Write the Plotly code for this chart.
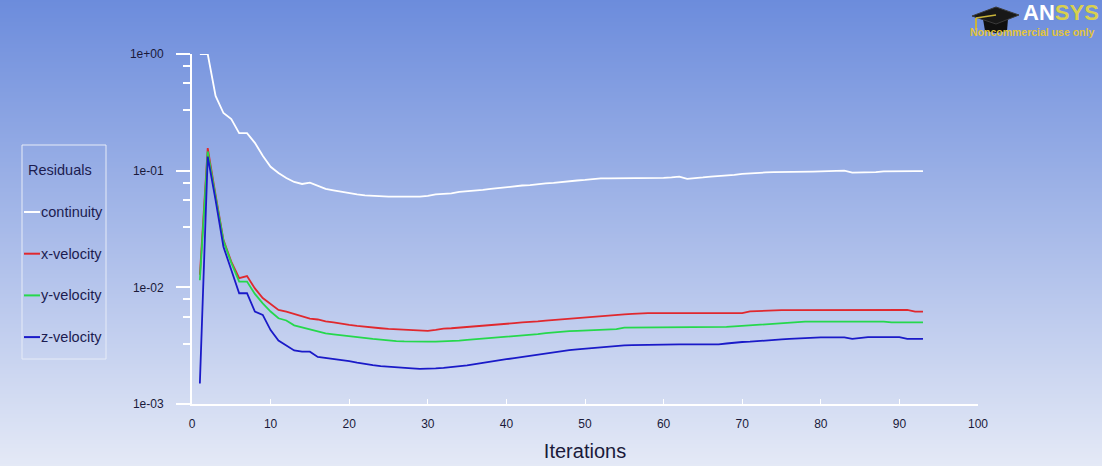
import plotly.graph_objects as go

# ---------------- data ----------------
iterations = list(range(1, 94))

continuity = [
    1.0, 1.0, 0.437, 0.312, 0.277, 0.21, 0.21, 0.173, 0.134, 0.108,
    0.0955, 0.0866, 0.080, 0.0769, 0.0789, 0.0739, 0.0697, 0.0677, 0.0657, 0.064,
    0.0626, 0.0614, 0.0607, 0.0603, 0.060, 0.0599, 0.0598, 0.0598, 0.060, 0.0607,
    0.0626, 0.0633, 0.064, 0.0657, 0.0664, 0.067, 0.0684, 0.0697, 0.071, 0.0724,
    0.0739, 0.0746, 0.0753, 0.0769, 0.0777, 0.0785, 0.080, 0.0816, 0.0824, 0.0833,
    0.085, 0.0858, 0.0858, 0.0858, 0.0858, 0.0858, 0.0858, 0.0858, 0.0858, 0.0866,
    0.0875, 0.089, 0.0852, 0.0858, 0.0875, 0.089, 0.0897, 0.0901, 0.0919, 0.0937,
    0.095, 0.0955, 0.0965, 0.097, 0.0975, 0.0975, 0.0978, 0.098, 0.0983, 0.0985,
    0.0994, 0.1, 0.1, 0.0963, 0.0963, 0.0966, 0.097, 0.0985, 0.099, 0.099,
    0.099, 0.099, 0.099,
]

x_velocity = [
    0.0128, 0.156, 0.062, 0.0255, 0.0166, 0.0120, 0.0125, 0.0098, 0.0081, 0.0072,
    0.0064, 0.0062, 0.0059, 0.0057, 0.0054, 0.0053, 0.0051, 0.0050, 0.00486, 0.00476,
    0.00467, 0.00458, 0.00454, 0.00446, 0.0044, 0.00436, 0.00432, 0.00426, 0.00423, 0.00423,
    0.00432, 0.00443, 0.00446, 0.00451, 0.00455, 0.00462, 0.00471, 0.00476, 0.00481, 0.00486,
    0.00493, 0.0050, 0.00503, 0.00511, 0.00519, 0.00526, 0.00533, 0.0054, 0.00544, 0.00552,
    0.0056, 0.00563, 0.00577, 0.0058, 0.00586, 0.00592, 0.00598, 0.0060, 0.0060, 0.0060,
    0.0060, 0.0060, 0.0060, 0.0060, 0.0060, 0.0060, 0.0060, 0.0060, 0.0060, 0.0060,
    0.00622, 0.00628, 0.00633, 0.00637, 0.00637, 0.00637, 0.00637, 0.00637, 0.00637, 0.00637,
    0.0064, 0.0064, 0.0064, 0.0064, 0.0064, 0.0064, 0.0064, 0.0064, 0.0064, 0.0064,
    0.0064, 0.0062, 0.0062,
]

y_velocity = [
    0.0115, 0.146, 0.060, 0.025, 0.0162, 0.0112, 0.0112, 0.00878, 0.0073, 0.0062,
    0.00543, 0.0052, 0.00472, 0.00454, 0.00438, 0.00421, 0.00403, 0.00395, 0.00387, 0.0038,
    0.00371, 0.00366, 0.00361, 0.00356, 0.0035, 0.00346, 0.00344, 0.00342, 0.00342, 0.00342,
    0.00342, 0.00343, 0.00347, 0.0035, 0.00354, 0.00358, 0.00363, 0.00367, 0.00372, 0.00376,
    0.00382, 0.00387, 0.00393, 0.00397, 0.00405, 0.00411, 0.00417, 0.00421, 0.00423, 0.00425,
    0.00429, 0.00432, 0.00434, 0.00438, 0.00452, 0.00452, 0.00452, 0.00452, 0.00452, 0.00452,
    0.00452, 0.00452, 0.00452, 0.00452, 0.00452, 0.00452, 0.00452, 0.00458, 0.00462, 0.00467,
    0.00472, 0.00478, 0.00486, 0.00493, 0.00496, 0.00503, 0.00508, 0.00509, 0.00509, 0.00509,
    0.00509, 0.00509, 0.00509, 0.00509, 0.00509, 0.00509, 0.00509, 0.00509, 0.0050, 0.0050,
    0.0050, 0.0050, 0.0050,
]

z_velocity = [
    0.0015, 0.132, 0.056, 0.0223, 0.0141, 0.0089, 0.0089, 0.0062, 0.0058, 0.0043,
    0.0035, 0.00315, 0.00288, 0.00281, 0.00281, 0.00253, 0.00248, 0.00243, 0.00239, 0.00233,
    0.00226, 0.00219, 0.00215, 0.00211, 0.00208, 0.00206, 0.00204, 0.00202, 0.0020, 0.0020,
    0.00202, 0.00204, 0.00207, 0.00209, 0.00214, 0.0022, 0.00226, 0.00231, 0.00236, 0.00242,
    0.00247, 0.00253, 0.00259, 0.00266, 0.00272, 0.00278, 0.00285, 0.00289, 0.00294, 0.00298,
    0.00303, 0.00308, 0.00312, 0.00316, 0.00318, 0.0032, 0.00321, 0.00325, 0.00325, 0.00325,
    0.00325, 0.00325, 0.00325, 0.00325, 0.00325, 0.00325, 0.00325, 0.0033, 0.00336, 0.0034,
    0.00342, 0.00347, 0.0035, 0.00354, 0.00358, 0.00362, 0.00366, 0.00368, 0.00373, 0.00373,
    0.00373, 0.00373, 0.00373, 0.00362, 0.00369, 0.00375, 0.00375, 0.00375, 0.00375, 0.00375,
    0.00362, 0.00362, 0.00362,
]

series_names = ["continuity", "x-velocity", "y-velocity", "z-velocity"]
series_values = [continuity, x_velocity, y_velocity, z_velocity]
series_colors = ["#ffffff", "#e0282e", "#25d84c", "#1a1ac8"]

legend_title = "Residuals"
x_title = "Iterations"
x_tick_vals = [0, 10, 20, 30, 40, 50, 60, 70, 80, 90, 100]
y_tick_vals = [1e-3, 1e-2, 1e-1, 1.0]
y_tick_text = ["1e-03", "1e-02", "1e-01", "1e+00"]
y_minor_vals = [0.79, 0.56, 0.33, 0.079, 0.056, 0.033, 0.0079, 0.0056, 0.0033]

# ---------------- geometry helpers (decorations only) ----------------
W, H = 1102, 466
ML, MR, MT, MB = 192, 124, 54, 62
PW = W - ML - MR
PH = H - MT - MB


def px(x):
    return (x - ML) / PW


def py(y):
    return (H - MB - y) / PH


TEXT_DARK = "#1a1a3a"
LEGEND_TEXT = "#1c1c50"
FONT = "Liberation Sans, Arial, sans-serif"

fig = go.Figure()

for name, vals, col in zip(series_names, series_values, series_colors):
    fig.add_trace(go.Scatter(
        x=iterations, y=vals, mode="lines", name=name,
        line=dict(color=col, width=1.8), showlegend=False,
        hoverinfo="x+y+name",
    ))

shapes = []
# vertical background gradient
top_c = (108, 140, 220)
bot_c = (228, 233, 246)
step = 2
for i in range(0, H, step):
    t = (i + step / 2) / H
    c = tuple(int(round(top_c[k] + (bot_c[k] - top_c[k]) * t)) for k in range(3))
    shapes.append(dict(
        type="rect", xref="paper", yref="paper",
        x0=px(-2), x1=px(W + 2), y0=py(i + step + 0.5), y1=py(i),
        fillcolor="rgb(%d,%d,%d)" % c, line=dict(width=0), layer="below",
    ))

# legend box
shapes.append(dict(
    type="rect", xref="paper", yref="paper",
    x0=px(22), x1=px(106), y0=py(359), y1=py(145),
    line=dict(color="#e6ebf7", width=1), fillcolor="rgba(0,0,0,0)", layer="above",
))

annotations = [dict(
    text=legend_title, xref="paper", yref="paper", x=px(26), y=py(170),
    xanchor="left", yanchor="middle", showarrow=False,
    font=dict(family=FONT, size=14.5, color=LEGEND_TEXT),
)]
for i, (name, col) in enumerate(zip(series_names, series_colors)):
    yy = 212 + 41.7 * i
    shapes.append(dict(
        type="line", xref="paper", yref="paper",
        x0=px(24), x1=px(40), y0=py(yy), y1=py(yy),
        line=dict(color=col, width=2), layer="above",
    ))
    annotations.append(dict(
        text=name, xref="paper", yref="paper", x=px(39), y=py(yy),
        xanchor="left", yanchor="middle", showarrow=False,
        font=dict(family=FONT, size=14.5, color=LEGEND_TEXT),
    ))

# ANSYS logo (mortarboard + wordmark)
def path_of(pts):
    return "M " + " L ".join("%f,%f" % (px(a), py(b)) for a, b in pts) + " Z"

shapes.append(dict(type="path", xref="paper", yref="paper",
                   path=path_of([(983, 19), (1008, 19), (1007, 31), (996, 33), (985, 31)]),
                   fillcolor="#101010", line=dict(width=0), layer="above"))
shapes.append(dict(type="path", xref="paper", yref="paper",
                   path=path_of([(972, 16), (996, 7), (1019, 15), (996, 24)]),
                   fillcolor="#181818", line=dict(color="#3a3a3a", width=1), layer="above"))
shapes.append(dict(type="line", xref="paper", yref="paper",
                   x0=px(996), y0=py(15), x1=px(976), y1=py(18),
                   line=dict(color="#c9b43a", width=1.5), layer="above"))
shapes.append(dict(type="line", xref="paper", yref="paper",
                   x0=px(976), y0=py(18), x1=px(976), y1=py(30),
                   line=dict(color="#c9b43a", width=2), layer="above"))

annotations.append(dict(
    text="<b><span style='color:#ffffff'>AN</span><span style='color:#d8d04e'>SYS</span></b>",
    xref="paper", yref="paper", x=px(1021), y=py(13), xanchor="left", yanchor="middle",
    showarrow=False, font=dict(family=FONT, size=22),
))
annotations.append(dict(
    text="<b>Noncommercial use only</b>",
    xref="paper", yref="paper", x=px(968), y=py(32), xanchor="left", yanchor="middle",
    showarrow=False, font=dict(family=FONT, size=10.5, color="#e2c43a"),
))

fig.update_layout(
    width=W, height=H, autosize=False,
    margin=dict(l=ML, r=MR, t=MT, b=MB, pad=0, autoexpand=False),
    paper_bgcolor="rgb(228,233,246)",
    plot_bgcolor="rgba(0,0,0,0)",
    shapes=shapes,
    annotations=annotations,
    showlegend=False,
    xaxis=dict(
        range=[0, 100], tickmode="array", tickvals=x_tick_vals,
        showgrid=False, zeroline=False, automargin=False,
        showline=True, linecolor="#ffffff", linewidth=2,
        ticks="inside", ticklen=5, tickcolor="#ffffff", tickwidth=1,
        tickfont=dict(family=FONT, size=12, color=TEXT_DARK),
        ticklabelstandoff=8,
        title=dict(text=x_title, standoff=14,
                   font=dict(family="Liberation Sans Narrow, Liberation Sans, Arial, sans-serif",
                             size=20, color=TEXT_DARK)),
    ),
    yaxis=dict(
        type="log", range=[-3, 0], tickmode="array",
        tickvals=y_tick_vals, ticktext=y_tick_text,
        showgrid=False, zeroline=False, automargin=False,
        showline=True, linecolor="#ffffff", linewidth=2,
        ticks="outside", ticklen=14, tickcolor="#ffffff", tickwidth=1.5,
        tickfont=dict(family=FONT, size=12, color=TEXT_DARK),
        ticklabelstandoff=10,
        minor=dict(tickmode="array", tickvals=y_minor_vals, ticks="outside",
                   ticklen=7, tickcolor="#ffffff", tickwidth=1.5, showgrid=False),
    ),
)

fig.write_html(
    "out.html",
    config={"displayModeBar": False},
    post_script="document.body.style.margin='0';document.body.style.overflow='hidden';",
)
